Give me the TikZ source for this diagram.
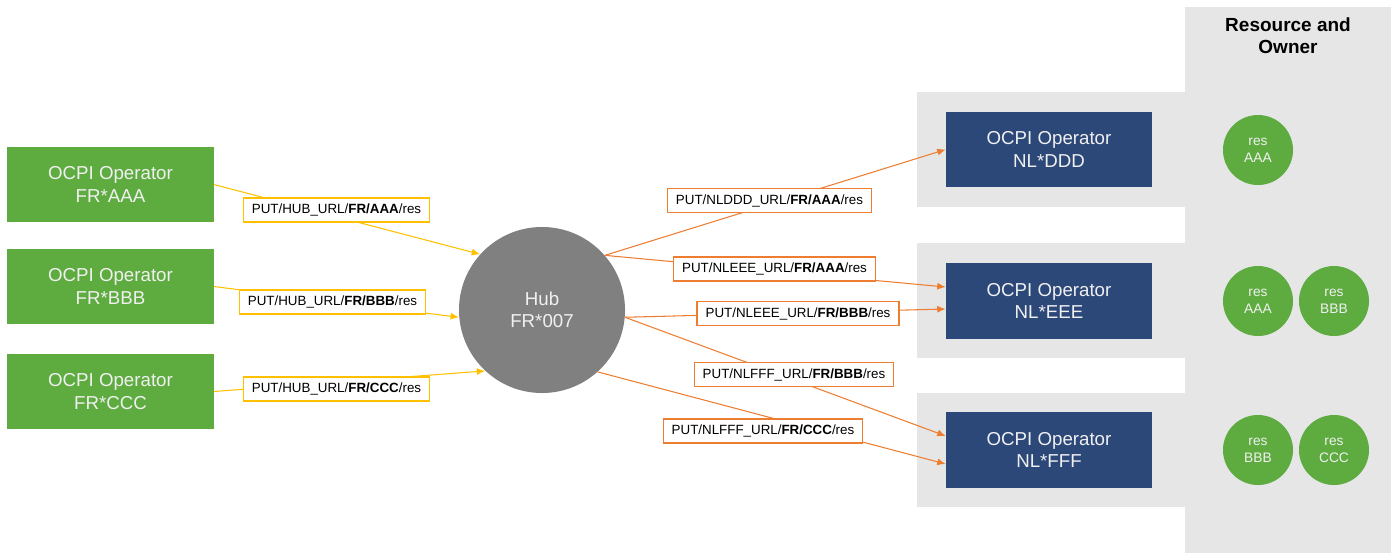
\documentclass[tikz,border=0pt]{standalone}
\usepackage{fontspec}
\setmainfont{Liberation Sans}
\usetikzlibrary{arrows.meta}
\definecolor{opgreen}{RGB}{94,172,64}
\definecolor{opblue}{RGB}{44,72,121}
\definecolor{hubgray}{RGB}{128,128,128}
\definecolor{panel}{RGB}{230,230,230}
\definecolor{putyellow}{RGB}{255,192,0}
\definecolor{putorange}{RGB}{237,125,49}
\begin{document}
\begin{tikzpicture}[x=0.025cm,y=-0.025cm,
	opbox/.style={minimum width=5.15cm,minimum height=1.875cm,align=center,text=white!94!black,font=\fontsize{13.3}{16}\selectfont},
	resdot/.style={circle,fill=opgreen,minimum size=1.75cm,inner sep=0pt,align=center,text=white!94!black,font=\fontsize{9.8}{12}\selectfont},
	putlbl/.style={draw,line width=1pt,fill=white,inner xsep=6pt,minimum height=0.6cm,font=\fontsize{9.5}{11}\selectfont},
	hubin/.style={draw=putyellow,line width=0.75pt,-{Latex[length=6pt,width=5pt]}},
	hubout/.style={draw=putorange,line width=0.75pt,-{Latex[length=6pt,width=5pt]}}]
	\useasboundingbox (0,0) rectangle (1396,553);
	% grey background
	\fill[panel] (1185,7) rectangle (1391,553);
	\fill[panel] (917,92) rectangle (1186,207);
	\fill[panel] (917,243) rectangle (1186,358);
	\fill[panel] (917,393) rectangle (1186,507);
	\node[align=center,font=\bfseries\fontsize{13.5}{15.6}\selectfont] (title) at (1288,36) {Resource and\\Owner};
	% operators
	\node[opbox,fill=opgreen] (frA) at (110.5,184.5) {OCPI Operator\\FR*AAA};
	\node[opbox,fill=opgreen] (frB) at (110.5,286.5) {OCPI Operator\\FR*BBB};
	\node[opbox,fill=opgreen] (frC) at (110.5,391.5) {OCPI Operator\\FR*CCC};
	\node[circle,fill=hubgray,minimum size=4.15cm,inner sep=0pt,align=center,text=white!94!black,font=\fontsize{13.3}{16}\selectfont] (hub) at (542,310) {Hub\\FR*007};
	\node[opbox,fill=opblue] (nlD) at (1049,149.5) {OCPI Operator\\NL*DDD};
	\node[opbox,fill=opblue] (nlE) at (1049,301) {OCPI Operator\\NL*EEE};
	\node[opbox,fill=opblue] (nlF) at (1049,450) {OCPI Operator\\NL*FFF};
	% resources
	\node[resdot] (resD1) at (1258,150) {res\\AAA};
	\node[resdot] (resE1) at (1258,301) {res\\AAA};
	\node[resdot] (resE2) at (1334,301) {res\\BBB};
	\node[resdot] (resF1) at (1258,450) {res\\BBB};
	\node[resdot] (resF2) at (1334,450) {res\\CCC};
	% PUT requests
	\draw[hubin] (frA.east) -- (hub.138);
	\draw[hubin] (frB.east) -- (hub.185);
	\draw[hubin] (frC.east) -- (hub.227);
	\draw[hubout] (hub.41) -- (nlD.west);
	\draw[hubout] (hub.41) -- ([yshift=0.35cm]nlE.west);
	\draw[hubout] (hub.-5) -- ([yshift=-0.2cm]nlE.west);
	\draw[hubout] (hub.-5) -- ([yshift=0.35cm]nlF.west);
	\draw[hubout] (hub.-48) -- ([yshift=-0.35cm]nlF.west);
	\node[putlbl,draw=putyellow] (putA) at (336.5,210) {PUT/HUB\_URL/\textbf{FR/AAA}/res};
	\node[putlbl,draw=putyellow] (putB) at (332.5,302) {PUT/HUB\_URL/\textbf{FR/BBB}/res};
	\node[putlbl,draw=putyellow] (putC) at (336.5,389) {PUT/HUB\_URL/\textbf{FR/CCC}/res};
	\node[putlbl,draw=putorange] (putDA) at (769.5,200.5) {PUT/NLDDD\_URL/\textbf{FR/AAA}/res};
	\node[putlbl,draw=putorange] (putEA) at (774.5,269) {PUT/NLEEE\_URL/\textbf{FR/AAA}/res};
	\node[putlbl,draw=putorange] (putEB) at (798,313.5) {PUT/NLEEE\_URL/\textbf{FR/BBB}/res};
	\node[putlbl,draw=putorange] (putFB) at (794,374.5) {PUT/NLFFF\_URL/\textbf{FR/BBB}/res};
	\node[putlbl,draw=putorange] (putFC) at (763,431) {PUT/NLFFF\_URL/\textbf{FR/CCC}/res};
\end{tikzpicture}
\end{document}
